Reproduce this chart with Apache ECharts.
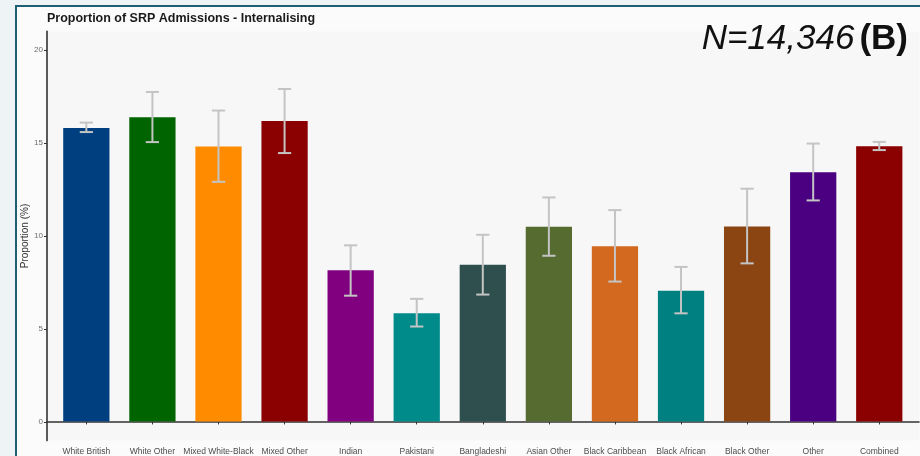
<!DOCTYPE html>
<html>
<head>
<meta charset="utf-8">
<script src="https://cdn.jsdelivr.net/npm/echarts@6/dist/echarts.min.js"></script>
<style>
html,body{margin:0;padding:0;background:#eef3f6;}
#chart{width:920px;height:456px;}
</style>
</head>
<body>
<div id="chart"></div>
<script>
const categories = ['White British','White Other','Mixed White-Black','Mixed Other','Indian','Pakistani','Bangladeshi','Asian Other','Black Caribbean','Black African','Black Other','Other','Combined'];
const proportion = [15.8, 16.38, 14.8, 16.17, 8.14, 5.82, 8.44, 10.48, 9.43, 7.04, 10.5, 13.42, 14.82];
const ciLower = [15.58, 15.04, 12.9, 14.45, 6.77, 5.11, 6.83, 8.92, 7.53, 5.82, 8.51, 11.9, 14.61];
const ciUpper = [16.09, 17.74, 16.74, 17.9, 9.48, 6.6, 10.05, 12.06, 11.38, 8.32, 12.53, 14.96, 15.05];
const barColors = ['#003f7f','#006400','#ff8c00','#8b0000','#800080','#008b8b','#2f4f4f','#556b2f','#d2691e','#008080','#8b4513','#4b0082','#8b0000'];
const yTicks = [0, 5, 10, 15, 20];
const titleText = 'Proportion of SRP Admissions - Internalising';
const yAxisTitle = 'Proportion (%)';
const sampleNote = 'N=14,346';
const panelLabel = '(B)';

const chart = echarts.init(document.getElementById('chart'), null, {renderer: 'canvas'});

const axisDark = '#333333';
const frameGrid = {left: 47, right: 1, top: 31.4, bottom: 15.4, show: true, backgroundColor: '#f7f7f7', borderWidth: 0};
const dataGrid = {left: 53.3, right: 7.7, top: 31.4, bottom: 15.4};

chart.setOption({
  backgroundColor: '#eef3f6',
  animation: false,
  graphic: [{
    type: 'rect', left: 15, top: 5, z: -10,
    shape: {width: 920, height: 470},
    style: {fill: '#fbfbfb', stroke: '#1f5f74', lineWidth: 2}
  }],
  title: [{
    text: titleText, left: 47, top: 12, padding: 0,
    textStyle: {fontFamily: 'Liberation Sans, Arial', fontSize: 12.5, fontWeight: 'bold', color: '#1a1a1a'}
  }, {
    text: '{n|' + sampleNote + '} {b|' + panelLabel + '}', right: 12, top: 22, padding: 0,
    textStyle: {
      fontWeight: 'normal',
      rich: {
        n: {fontFamily: 'Liberation Sans', fontStyle: 'italic', fontWeight: 'normal', fontSize: 35, color: '#111'},
        b: {fontFamily: 'Liberation Sans', fontWeight: 'bold', fontSize: 35, color: '#111'}
      }
    }
  }],
  grid: [frameGrid, dataGrid],
  xAxis: [{
    gridIndex: 0, type: 'value', min: 0, max: 1,
    axisLine: {show: true, lineStyle: {color: axisDark, width: 1.6}},
    axisTick: {show: false}, axisLabel: {show: false}, splitLine: {show: false}
  }, {
    gridIndex: 1, type: 'category', data: categories,
    axisLine: {show: false},
    axisTick: {show: true, alignWithLabel: true, length: 3, lineStyle: {color: axisDark, width: 1}},
    axisLabel: {interval: 0, margin: 7, fontFamily: 'Liberation Sans, Arial', fontSize: 8.5, color: '#4d4d4d'},
    splitLine: {show: false}
  }],
  yAxis: [{
    gridIndex: 0, type: 'value', min: -1, max: 21,
    axisLine: {show: true, lineStyle: {color: axisDark, width: 1.6}},
    axisTick: {show: true, length: 3, customValues: yTicks, lineStyle: {color: axisDark}},
    axisLabel: {customValues: yTicks, margin: 4, fontFamily: 'Liberation Sans, Arial', fontSize: 8, color: '#6b6b6b'},
    splitLine: {show: false},
    name: yAxisTitle, nameLocation: 'middle', nameRotate: 90, nameGap: 17, nameMoveOverlap: false,
    nameTextStyle: {fontFamily: 'Liberation Sans, Arial', fontSize: 10, color: '#333'}
  }, {
    gridIndex: 1, type: 'value', min: -1, max: 21, show: false, splitLine: {show: false}
  }],
  series: [{
    type: 'bar', xAxisIndex: 1, yAxisIndex: 1, barWidth: '70%',
    data: proportion.map((v, i) => ({value: v, itemStyle: {color: barColors[i]}}))
  }, {
    type: 'custom', xAxisIndex: 1, yAxisIndex: 1, z: 10,
    data: categories.map((c, i) => [i, ciLower[i], ciUpper[i]]),
    renderItem: function (params, api) {
      const x = api.value(0);
      const lo = api.coord([x, api.value(1)]);
      const hi = api.coord([x, api.value(2)]);
      const hw = api.size([1, 0])[0] * 0.1;
      const st = {stroke: '#c4c4c4', lineWidth: 2};
      return {type: 'group', children: [
        {type: 'line', shape: {x1: lo[0], y1: lo[1], x2: hi[0], y2: hi[1]}, style: st},
        {type: 'line', shape: {x1: hi[0] - hw, y1: hi[1], x2: hi[0] + hw, y2: hi[1]}, style: st},
        {type: 'line', shape: {x1: lo[0] - hw, y1: lo[1], x2: lo[0] + hw, y2: lo[1]}, style: st}
      ]};
    }
  }]
});
</script>
</body>
</html>
